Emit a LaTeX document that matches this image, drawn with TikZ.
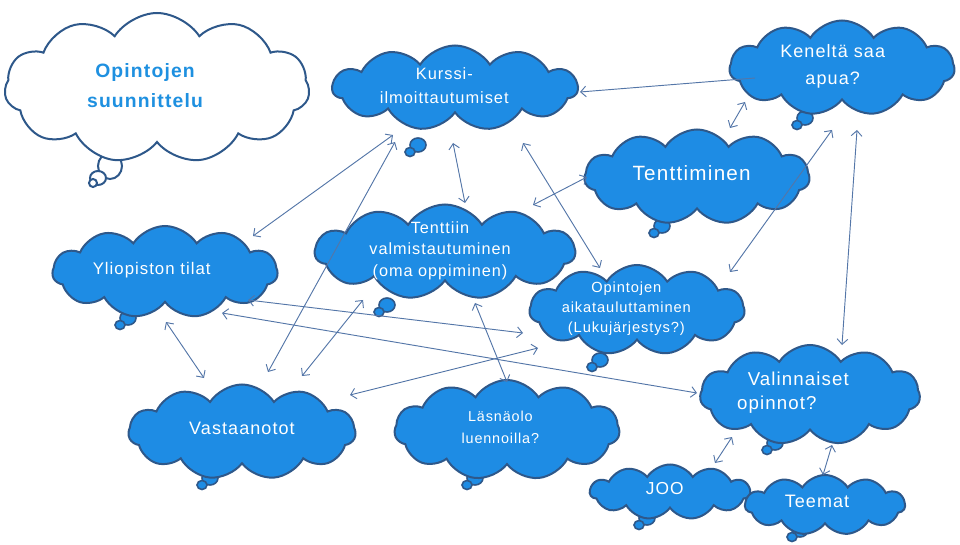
\documentclass[tikz,border=0pt]{standalone}
\usepackage{fontspec}
\setmainfont[LetterSpace=6]{Liberation Sans}
\usetikzlibrary{shapes.symbols,arrows.meta,calc}

\definecolor{cloudblue}{RGB}{30,140,228}
\definecolor{cloudline}{RGB}{46,88,138}
\definecolor{linkblue}{RGB}{84,118,168}
\definecolor{titleblue}{RGB}{30,144,224}

\tikzset{
  bubble/.style={cloud, cloud puffs=11, cloud puff arc=115, cloud ignores aspect,
    draw=cloudline, line width=1.5pt, fill=cloudblue, text=white, inner sep=0pt},
  cloudsize/.style 2 args={minimum width=#1*0.75pt, minimum height=#2*0.75pt},
  link/.style={draw=linkblue, line width=0.7pt,
    {Straight Barb[length=4pt,width=8pt]}-{Straight Barb[length=4pt,width=8pt]}},
  oneway/.style={draw=linkblue, line width=0.7pt, -{Straight Barb[length=4pt,width=8pt]}},
}

% text block that does not widen the cloud; #2 = shift to the left
\newcommand{\cloudtext}[3][c]{%
  \raisebox{-.3em}{\smash{\makebox[0pt]{\hspace*{-#2}\begin{tabular}{@{}#1@{}}#3\end{tabular}\hspace*{#2}}}}}

% small thought bubbles under a cloud
\newcommand{\thought}[3][cloudblue]{%
  \draw[cloudline, line width=1.2pt, fill=#1] (#2,#3) ellipse[x radius=8, y radius=7];
  \draw[cloudline, line width=1.2pt, fill=#1] ($(#2,#3)+(-8,7)$) ellipse[x radius=5, y radius=4.5];
}

\begin{document}
\begin{tikzpicture}[x=0.75pt,y=-0.75pt]
\useasboundingbox (0,0) rectangle (960,545);

% tails
\draw[cloudline, line width=1.5pt, fill=white] (110,166) ellipse[x radius=12, y radius=13];
\draw[cloudline, line width=1.5pt, fill=white] (98,178) ellipse[x radius=8, y radius=7];
\draw[cloudline, line width=1.5pt, fill=white] (93,183) ellipse[x radius=4, y radius=4];
\thought{418}{145}
\thought{805}{118}
\thought{662}{226}
\thought{128}{318}
\thought{387}{305}
\thought{600}{360}
\thought{210}{478}
\thought{475}{478}
\thought{775}{443}
\thought{647}{518}
\thought{800}{530}

% clouds
\node[bubble, fill=white, text=titleblue, font=\bfseries\fontsize{14.5}{22.5}\selectfont,
  cloudsize={305}{150}] (suunnittelu) at (157,88)
  {\cloudtext{9pt}{Opintojen\\suunnittelu}};
\node[bubble, font=\fontsize{12.3}{18}\selectfont, cloudsize={245}{85}] (kurssi) at (455,88)
  {\cloudtext{8pt}{Kurssi-\\ilmoittautumiset}};
\node[bubble, font=\fontsize{13.5}{20}\selectfont, cloudsize={225}{95}] (keneltae) at (842,68)
  {\cloudtext{7pt}{Keneltä saa\\apua?}};
\node[bubble, font=\fontsize{15.5}{20}\selectfont, cloudsize={225}{95}] (tentti) at (697,177)
  {\cloudtext{4pt}{Tenttiminen}};
\node[bubble, font=\fontsize{12.6}{15}\selectfont, cloudsize={225}{92}] (yliopisto) at (165,272)
  {\cloudtext{10pt}{Yliopiston tilat}};
\node[bubble, font=\fontsize{12.2}{16}\selectfont, cloudsize={260}{95}] (valmist) at (445,252)
  {\cloudtext{3.75pt}{Tenttiin\\valmistautuminen\\(oma oppiminen)}};
\node[bubble, font=\fontsize{11}{15}\selectfont, cloudsize={215}{90}] (aikataulu) at (637,310)
  {\cloudtext{8pt}{Opintojen\\aikatauluttaminen\\(Lukujärjestys?)}};
\node[bubble, font=\fontsize{13.5}{18}\selectfont, cloudsize={227}{95}] (vastaanotot) at (242,432)
  {\cloudtext{0pt}{Vastaanotot}};
\node[bubble, font=\fontsize{10.8}{16.5}\selectfont, cloudsize={225}{100}] (lasnaolo) at (507,430)
  {\cloudtext{5pt}{Läsnäolo\\luennoilla?}};
\node[bubble, font=\fontsize{14}{18}\selectfont, cloudsize={220}{100}] (valinnaiset) at (810,395)
  {\cloudtext[l]{12.75pt}{\hspace*{8pt}Valinnaiset\\opinnot?}};
\node[bubble, font=\fontsize{13}{16}\selectfont, cloudsize={160}{55}] (joo) at (670,492)
  {\cloudtext{4pt}{JOO}};
\node[bubble, font=\fontsize{13.5}{17}\selectfont, cloudsize={160}{60}] (teemat) at (825,505)
  {\cloudtext{6pt}{Teemat}};

% connectors
\draw[oneway] ($(keneltae)+(-87,10)$) -- ($(kurssi)+(125,4)$);
\draw[link] ($(keneltae)+(-97,34)$) -- ($(tentti)+(33,-49)$);
\draw[link] ($(tentti)+(-110,0)$) -- ($(valmist)+(88,-47)$);
\draw[link] ($(kurssi)+(-2,55)$) -- ($(valmist)+(20,-49)$);
\draw[link] ($(kurssi)+(68,55)$) -- ($(aikataulu)+(-37,-42)$);
\draw[link] ($(kurssi)+(-62,47)$) -- ($(yliopisto)+(88,-36)$);
\draw[link] ($(kurssi)+(-60,54)$) -- ($(vastaanotot)+(26,-60)$);
\draw[link] ($(valmist)+(-82,48)$) -- ($(vastaanotot)+(60,-56)$);
\draw[link] ($(yliopisto)+(1,50)$) -- ($(vastaanotot)+(-38,-54)$);
\draw[link] ($(yliopisto)+(83,28)$) -- ($(aikataulu)+(-114,23)$);
\draw[link] ($(yliopisto)+(57,41)$) -- ($(valinnaiset)+(-113,-2)$);
\draw[link] ($(valmist)+(30,51)$) -- ($(lasnaolo)+(0,-48)$);
\draw[link] ($(aikataulu)+(-99,38)$) -- ($(vastaanotot)+(108,-37)$);
\draw[link] ($(keneltae)+(-10,62)$) -- ($(aikataulu)+(93,-38)$);
\draw[link] ($(keneltae)+(15,62)$) -- ($(valinnaiset)+(32,-50)$);
\draw[link] ($(valinnaiset)+(-78,42)$) -- ($(joo)+(45,-29)$);
\draw[link] ($(valinnaiset)+(22,50)$) -- ($(teemat)+(-2,-30)$);
\end{tikzpicture}
\end{document}
